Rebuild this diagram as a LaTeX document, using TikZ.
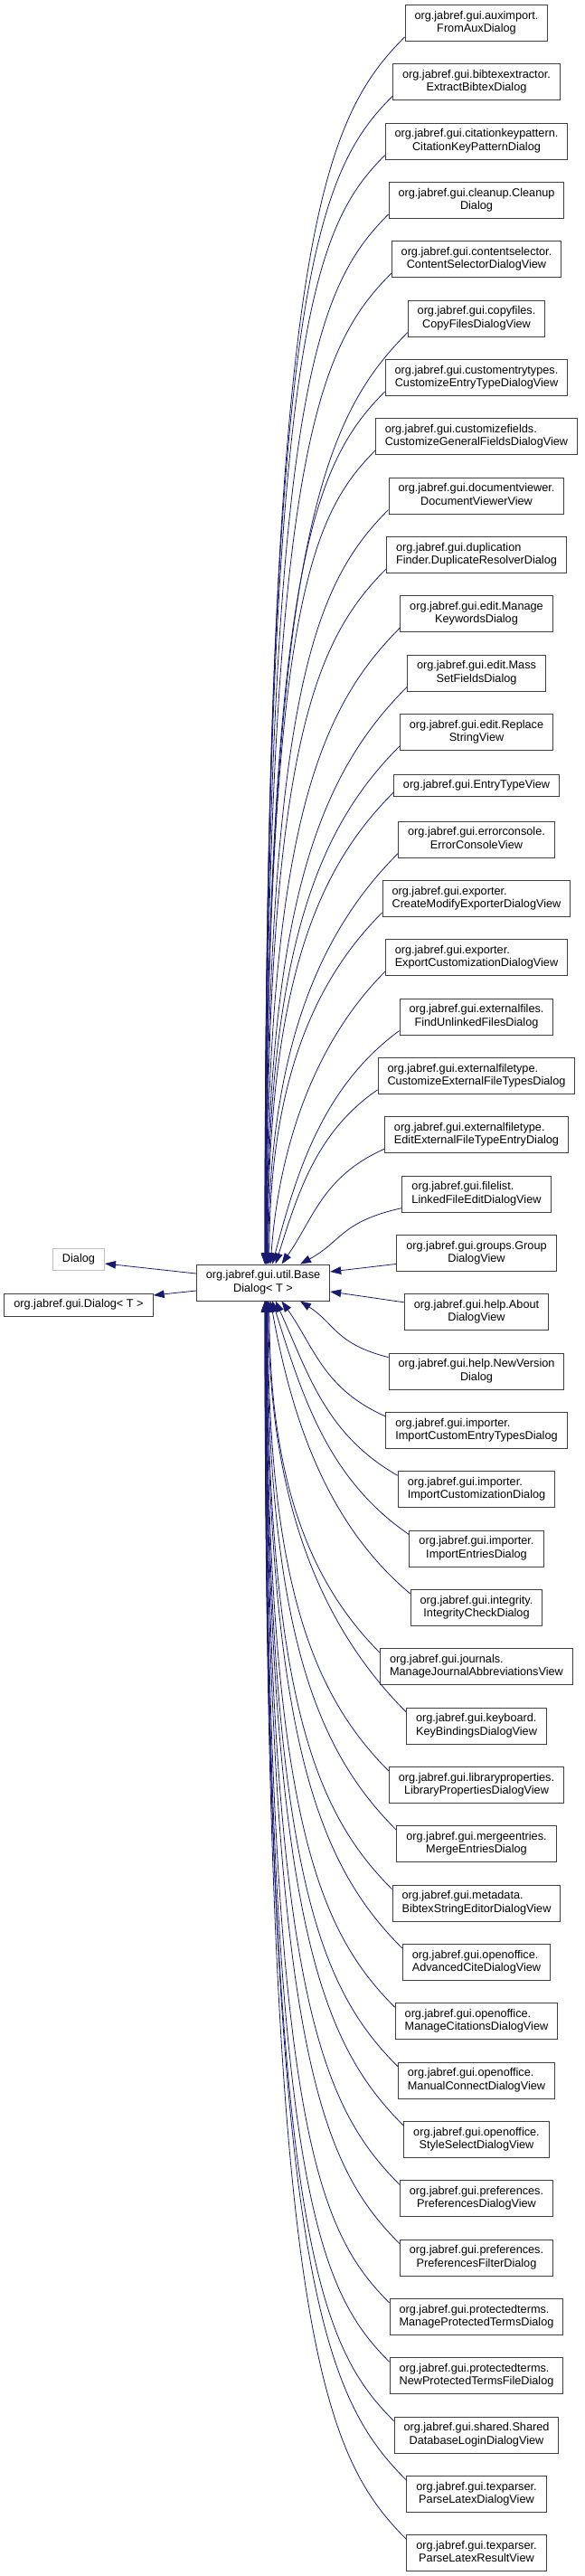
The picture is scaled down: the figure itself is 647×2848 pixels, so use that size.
\documentclass[tikz,border=0pt]{standalone}
\usepackage{fontspec}
\setmainfont{Liberation Sans}
\usepackage{tikz}
\usetikzlibrary{arrows.meta,calc,positioning}
\usepackage{xcolor}

\definecolor{edgeblue}{RGB}{25,25,112}
\definecolor{boxgray}{RGB}{64,64,64}
\definecolor{extgray}{RGB}{191,191,191}

% first line flush left, second line centred (as doxygen does)
\newcommand{\twoline}[2]{\begin{tabular}{@{}l@{}}#1\\\multicolumn{1}{@{}c@{}}{#2}\end{tabular}}

\begin{document}
\begin{tikzpicture}[x=1pt, y=-1pt,
	cls/.style={draw=boxgray, line width=1pt, fill=white, inner xsep=10.5pt,
		inner ysep=5.7pt, font=\fontsize{12.7}{14.3}\selectfont},
	one/.style={cls, inner ysep=4.9pt},
	arr/.style={-{Triangle[length=12pt, width=8.5pt]}, color=edgeblue,
		line width=0.8pt}
]
	\useasboundingbox (0,0) rectangle (647,2848);

	% Base class and its parents
	\node[cls] (base) at (291, 1418) {\twoline{org.jabref.gui.util.Base}{Dialog< T >}};
	\node[one, draw=extgray] (dialog) at (87, 1392.5) {\strut Dialog};
	\node[one] (dialogt) at (87, 1443) {\strut org.jabref.gui.Dialog< T >};

	\draw[arr] ([yshift=10pt]base.west) -- ([yshift=-4.5pt]dialog.east);
	\draw[arr] ([yshift=-9pt]base.west) -- ([yshift=11pt]dialogt.east);

	% Subclasses, upper half
	\node[cls] (auximport)     at (527, 25.5)   {\twoline{org.jabref.gui.auximport.}{FromAuxDialog}};
	\node[cls] (bibtex)        at (527, 90.8)   {\twoline{org.jabref.gui.bibtexextractor.}{ExtractBibtexDialog}};
	\node[cls] (citekey)       at (527, 156.2)  {\twoline{org.jabref.gui.citationkeypattern.}{CitationKeyPatternDialog}};
	\node[cls] (cleanup)       at (527, 221.5)  {\twoline{org.jabref.gui.cleanup.Cleanup}{Dialog}};
	\node[cls] (contentsel)    at (527, 286.8)  {\twoline{org.jabref.gui.contentselector.}{ContentSelectorDialogView}};
	\node[cls] (copyfiles)     at (527, 352.2)  {\twoline{org.jabref.gui.copyfiles.}{CopyFilesDialogView}};
	\node[cls] (custentry)     at (527, 417.5)  {\twoline{org.jabref.gui.customentrytypes.}{CustomizeEntryTypeDialogView}};
	\node[cls] (custfields)    at (527, 482.8)  {\twoline{org.jabref.gui.customizefields.}{CustomizeGeneralFieldsDialogView}};
	\node[cls] (docviewer)     at (527, 548.1)  {\twoline{org.jabref.gui.documentviewer.}{DocumentViewerView}};
	\node[cls] (duplicate)     at (527, 613.5)  {\twoline{org.jabref.gui.duplication}{Finder.DuplicateResolverDialog}};
	\node[cls] (keywords)      at (527, 678.8)  {\twoline{org.jabref.gui.edit.Manage}{KeywordsDialog}};
	\node[cls] (massset)       at (527, 744.1)  {\twoline{org.jabref.gui.edit.Mass}{SetFieldsDialog}};
	\node[cls] (replace)       at (527, 809.5)  {\twoline{org.jabref.gui.edit.Replace}{StringView}};
	\node[one] (entrytype)     at (527, 868.8)  {\strut org.jabref.gui.EntryTypeView};
	\node[cls] (errorcons)     at (527, 928.1)  {\twoline{org.jabref.gui.errorconsole.}{ErrorConsoleView}};
	\node[cls] (createexp)     at (527, 993.5)  {\twoline{org.jabref.gui.exporter.}{CreateModifyExporterDialogView}};
	\node[cls] (exportcust)    at (527, 1058.8) {\twoline{org.jabref.gui.exporter.}{ExportCustomizationDialogView}};
	\node[cls] (unlinked)      at (527, 1124.1) {\twoline{org.jabref.gui.externalfiles.}{FindUnlinkedFilesDialog}};
	\node[cls] (custfiletypes) at (527, 1189.4) {\twoline{org.jabref.gui.externalfiletype.}{CustomizeExternalFileTypesDialog}};
	\node[cls] (editfiletype)  at (527, 1254.8) {\twoline{org.jabref.gui.externalfiletype.}{EditExternalFileTypeEntryDialog}};
	\node[cls] (linkedfile)    at (527, 1320.1) {\twoline{org.jabref.gui.filelist.}{LinkedFileEditDialogView}};

	% Subclasses beside the base class
	\node[cls] (group)         at (527, 1385.4) {\twoline{org.jabref.gui.groups.Group}{DialogView}};
	\node[cls] (about)         at (527, 1450.8) {\twoline{org.jabref.gui.help.About}{DialogView}};

	% Subclasses, lower half
	\node[cls] (newversion)    at (527, 1516.1) {\twoline{org.jabref.gui.help.NewVersion}{Dialog}};
	\node[cls] (importcustent) at (527, 1581.4) {\twoline{org.jabref.gui.importer.}{ImportCustomEntryTypesDialog}};
	\node[cls] (importcust)    at (527, 1646.8) {\twoline{org.jabref.gui.importer.}{ImportCustomizationDialog}};
	\node[cls] (importentries) at (527, 1712.1) {\twoline{org.jabref.gui.importer.}{ImportEntriesDialog}};
	\node[cls] (integrity)     at (527, 1777.4) {\twoline{org.jabref.gui.integrity.}{IntegrityCheckDialog}};
	\node[cls] (journals)      at (527, 1842.7) {\twoline{org.jabref.gui.journals.}{ManageJournalAbbreviationsView}};
	\node[cls] (keybind)       at (527, 1908.1) {\twoline{org.jabref.gui.keyboard.}{KeyBindingsDialogView}};
	\node[cls] (libprops)      at (527, 1973.4) {\twoline{org.jabref.gui.libraryproperties.}{LibraryPropertiesDialogView}};
	\node[cls] (merge)         at (527, 2038.7) {\twoline{org.jabref.gui.mergeentries.}{MergeEntriesDialog}};
	\node[cls] (bibstring)     at (527, 2104.1) {\twoline{org.jabref.gui.metadata.}{BibtexStringEditorDialogView}};
	\node[cls] (advcite)       at (527, 2169.4) {\twoline{org.jabref.gui.openoffice.}{AdvancedCiteDialogView}};
	\node[cls] (managecite)    at (527, 2234.7) {\twoline{org.jabref.gui.openoffice.}{ManageCitationsDialogView}};
	\node[cls] (manualconn)    at (527, 2300.1) {\twoline{org.jabref.gui.openoffice.}{ManualConnectDialogView}};
	\node[cls] (styleselect)   at (527, 2365.4) {\twoline{org.jabref.gui.openoffice.}{StyleSelectDialogView}};
	\node[cls] (prefs)         at (527, 2430.7) {\twoline{org.jabref.gui.preferences.}{PreferencesDialogView}};
	\node[cls] (prefsfilter)   at (527, 2496.0) {\twoline{org.jabref.gui.preferences.}{PreferencesFilterDialog}};
	\node[cls] (manageterms)   at (527, 2561.4) {\twoline{org.jabref.gui.protectedterms.}{ManageProtectedTermsDialog}};
	\node[cls] (newterms)      at (527, 2626.7) {\twoline{org.jabref.gui.protectedterms.}{NewProtectedTermsFileDialog}};
	\node[cls] (shared)        at (527, 2692.0) {\twoline{org.jabref.gui.shared.Shared}{DatabaseLoginDialogView}};
	\node[cls] (parselatex)    at (527, 2757.4) {\twoline{org.jabref.gui.texparser.}{ParseLatexDialogView}};
	\node[cls] (parseresult)   at (527, 2822.7) {\twoline{org.jabref.gui.texparser.}{ParseLatexResultView}};

	% Edges into the top of the base class
	\foreach \c/\k in {auximport/21, bibtex/20, citekey/19, cleanup/18, contentsel/17,
		copyfiles/16, custentry/15, custfields/14, docviewer/13, duplicate/12,
		keywords/11, massset/10, replace/9, entrytype/8, errorcons/7, createexp/6,
		exportcust/5, unlinked/4, custfiletypes/3, editfiletype/2, linkedfile/1}
		\draw[arr] let \p1=([yshift=5pt]\c.south west), \p2=([xshift={41/\k}]base.north),
			\n1={min(1.5*(\x1-\x2), 0.6*(\y1-\y2))},
			\n2={0.5*(\x1-\x2)*max(0, 1-(\y1-\y2)/(3*(\x1-\x2)))} in
			(\p1) .. controls ({\x1-0.6*(\x1-\x2)}, {\y1-0.4*\n1})
			and ({\x2+\n2}, {\y1-\n1}) .. (\p2);

	% Edges into the bottom of the base class
	\foreach \c/\k in {newversion/1, importcustent/2, importcust/3, importentries/4,
		integrity/5, journals/6, keybind/7, libprops/8, merge/9, bibstring/10,
		advcite/11, managecite/12, manualconn/13, styleselect/14, prefs/15,
		prefsfilter/16, manageterms/17, newterms/18, shared/19, parselatex/20,
		parseresult/21}
		\draw[arr] let \p1=([yshift=-5pt]\c.north west), \p2=([xshift={41/\k}]base.south),
			\n1={min(1.5*(\x1-\x2), 0.6*(\y2-\y1))},
			\n2={0.5*(\x1-\x2)*max(0, 1-(\y2-\y1)/(3*(\x1-\x2)))} in
			(\p1) .. controls ({\x1-0.6*(\x1-\x2)}, {\y1+0.4*\n1})
			and ({\x2+\n2}, {\y1+\n1}) .. (\p2);

	% Edges into the side of the base class
	\draw[arr] ([yshift=-12pt]group.west) -- ([yshift=12pt]base.east);
	\draw[arr] ([yshift=11pt]about.west) -- ([yshift=-10pt]base.east);
\end{tikzpicture}
\end{document}
